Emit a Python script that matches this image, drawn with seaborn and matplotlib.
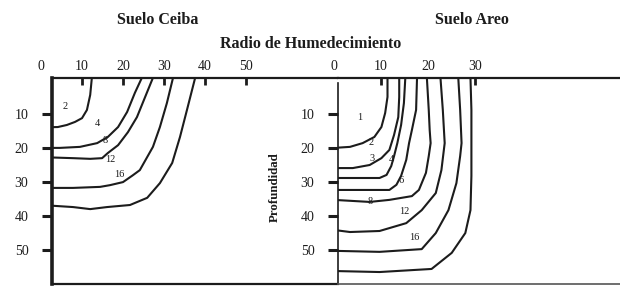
import numpy as np
import pandas as pd
import matplotlib
matplotlib.use("Agg")
import matplotlib.pyplot as plt
import seaborn as sns

# ---------------- data (radius r, depth d) ----------------
ceiba_r = [
    [12.4, 12.0, 11.2, 10.0, 8.3, 6.3, 4.1, 0.0],
    [24.6, 22.9, 21.0, 18.8, 16.3, 13.7, 9.5, 4.6, 0.0],
    [27.3, 25.4, 23.4, 21.2, 18.8, 16.3, 14.9, 12.0, 7.8, 0.0],
    [32.2, 30.7, 29.0, 27.3, 24.1, 22.4, 20.0, 16.8, 14.4, 7.8, 0.0],
    [37.6, 35.6, 33.9, 32.0, 29.0, 25.9, 21.7, 16.1, 12.0, 7.8, 0.0],
]
ceiba_d = [
    [-0.5, 4.5, 8.9, 11.3, 12.4, 13.3, 13.9, 14.0],
    [-0.5, 3.9, 9.5, 13.9, 16.8, 18.6, 19.7, 20.0, 20.0],
    [-0.5, 5.1, 11.0, 15.4, 19.2, 21.5, 23.0, 23.2, 23.0, 22.7],
    [-0.5, 6.9, 13.9, 19.7, 26.5, 28.0, 30.0, 30.9, 31.4, 31.7, 31.7],
    [-0.5, 8.9, 16.8, 24.4, 30.3, 34.6, 36.7, 37.3, 37.9, 37.3, 36.7],
]
ceiba_labels = ["2", "4", "8", "12", "16"]
ceiba_label_r = [5.9, 13.7, 15.6, 16.8, 19.0]
ceiba_label_d = [8.0, 13.0, 17.7, 23.5, 27.9]

areo_r = [
    [11.4, 11.4, 10.9, 10.1, 8.6, 6.1, 3.4, 0.0],
    [13.9, 13.9, 13.7, 12.8, 11.8, 10.1, 7.6, 4.0, 0.0],
    [15.2, 14.9, 14.3, 13.5, 12.8, 12.2, 11.2, 9.7, 0.0],
    [17.7, 17.5, 16.6, 16.0, 15.4, 14.3, 13.3, 11.8, 0.0],
    [19.8, 20.2, 20.4, 20.6, 20.2, 19.6, 18.1, 16.6, 11.8, 7.6, 0.0],
    [22.7, 23.2, 23.6, 22.9, 21.7, 18.7, 15.4, 9.7, 3.4, 0.0],
    [26.5, 26.9, 27.2, 26.9, 26.1, 24.4, 21.7, 18.7, 9.7, 0.0],
    [29.1, 29.3, 29.3, 29.3, 29.1, 28.0, 25.1, 20.8, 9.7, 0.0],
]
areo_d = [
    [-0.5, 5.1, 9.8, 13.9, 16.8, 18.6, 19.7, 20.0],
    [-0.5, 5.1, 11.0, 16.2, 20.6, 23.0, 25.0, 25.9, 25.9],
    [-0.5, 6.9, 13.3, 18.6, 22.4, 25.3, 27.9, 28.8, 28.8],
    [-0.5, 8.9, 14.8, 18.6, 23.5, 28.2, 30.8, 32.3, 32.3],
    [-0.5, 8.9, 14.8, 18.6, 22.4, 27.3, 32.3, 34.1, 35.2, 35.8, 35.2],
    [-0.5, 8.9, 18.6, 26.5, 33.2, 38.2, 42.0, 44.3, 44.6, 44.0],
    [-0.5, 8.9, 18.6, 22.4, 30.3, 38.2, 44.9, 49.6, 50.4, 50.1],
    [-0.5, 8.9, 18.6, 28.2, 38.2, 44.9, 50.7, 55.4, 56.3, 56.0],
]
areo_labels = ["1", "2", "3", "4", "6", "8", "12", "16"]
areo_label_r = [5.5, 8.0, 8.0, 12.2, 14.3, 7.8, 14.9, 17.1]
areo_label_d = [11.0, 18.3, 23.2, 23.5, 29.4, 35.8, 38.7, 46.1]

ceiba_xticklabels = [0, 10, 20, 30, 40, 50]
ceiba_xmarks = [10, 20, 30, 40, 50]
areo_xticklabels = [0, 10, 20, 30]
areo_xmarks = [10, 30]
depth_ticks = [10, 20, 30, 40, 50]


def to_frame(rs, ds):
    rows = []
    for i, (r, d) in enumerate(zip(rs, ds)):
        for a, b in zip(r, d):
            rows.append({"curve": i, "r": a, "d": b})
    return pd.DataFrame(rows)


sns.set_theme(style="white")
plt.rcParams["font.family"] = ["Liberation Serif", "DejaVu Serif"]
INK = "#1c1c1c"

fig = plt.figure(figsize=(6.2, 2.86), dpi=100)
W, H = 620.0, 286.0
top_px, bot_px = 78, 284
ax1 = fig.add_axes([52 / W, 1 - bot_px / H, 286 / W, (bot_px - top_px) / H])
ax2 = fig.add_axes([338 / W, 1 - bot_px / H, 282 / W, (bot_px - top_px) / H])

ylim = (59.8, -0.44)
ax1.set_xlim(2.68, 72.44)
ax2.set_xlim(0.84, 61.0)

panels = [
    (ax1, ceiba_r, ceiba_d, ceiba_labels, ceiba_label_r, ceiba_label_d,
     ceiba_xticklabels, ceiba_xmarks, 2.6),
    (ax2, areo_r, areo_d, areo_labels, areo_label_r, areo_label_d,
     areo_xticklabels, areo_xmarks, 1.2),
]

for ax, rs, ds, labs, lr, ld, xtl, xm, lw_left in panels:
    df = to_frame(rs, ds)
    sns.lineplot(data=df, x="r", y="d", units="curve", estimator=None,
                 sort=False, color=INK, lw=1.5, ax=ax, legend=False)
    for ln in ax.get_lines():
        ln.set_solid_joinstyle("round")
        ln.set_solid_capstyle("round")
    ax.set_ylim(*ylim)
    ax.set_xlabel("")
    ax.set_ylabel("")
    for t, a, b in zip(labs, lr, ld):
        ax.text(a, b, t, fontsize=7.5, ha="center", va="center", color=INK)
    # spines
    ax.spines["right"].set_visible(False)
    ax.spines["left"].set_linewidth(lw_left)
    ax.spines["top"].set_linewidth(1.6)
    ax.spines["bottom"].set_linewidth(1.6)
    for s in ax.spines.values():
        s.set_color(INK)
    # y ticks
    ax.set_yticks(depth_ticks)
    ax.set_yticklabels([str(v) for v in depth_ticks])
    ax.tick_params(axis="y", direction="out", length=7, width=2.2,
                   color=INK, labelsize=10, pad=10, labelcolor=INK, left=True)
    # top marks
    ax.set_xticks(xm)
    ax.tick_params(axis="x", top=True, bottom=False, labeltop=False,
                   labelbottom=False, direction="in", length=5, width=2,
                   color=INK)
    for v in xtl:
        ax.annotate(str(v), xy=(v, 1), xycoords=("data", "axes fraction"),
                    xytext=(0, 5.8), textcoords="offset points",
                    ha="center", va="baseline", fontsize=10, color=INK,
                    annotation_clip=False)

ax2.spines["left"].set_bounds(1.0, 59.8)
ax2.spines["bottom"].set_color("#555555")
ax2.spines["bottom"].set_linewidth(1.2)

fig.text(158 / W, 1 - 20 / H, "Suelo Ceiba", ha="center", va="center",
         fontsize=11.5, fontweight="bold", color=INK)
fig.text(472 / W, 1 - 20 / H, "Suelo Areo", ha="center", va="center",
         fontsize=11.5, fontweight="bold", color=INK)
fig.text(311 / W, 1 - 44 / H, "Radio de Humedecimiento", ha="center",
         va="center", fontsize=11.5, fontweight="bold", color=INK)
fig.text(275 / W, 1 - 187 / H, "Profundidad", ha="center", va="center",
         rotation=90, fontsize=9.3, fontweight="bold", color=INK)

fig.savefig("out.png", dpi=100, facecolor="white")
